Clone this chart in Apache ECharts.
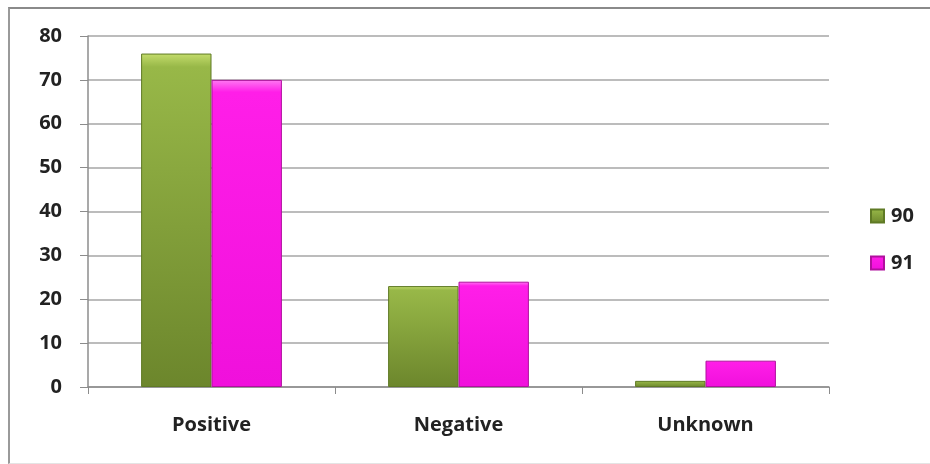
<!DOCTYPE html>
<html>
<head>
<meta charset="utf-8">
<script src="https://cdn.jsdelivr.net/npm/echarts@6/dist/echarts.min.js"></script>
<style>
  html, body { margin: 0; padding: 0; background: #fff; overflow: hidden; }
  #frame {
    position: absolute; left: 8px; top: 7px; width: 930px; height: 454px;
    border-top: 2px solid #8a8a8a; border-left: 2px solid #9a9a9a; border-bottom: 1px solid #e4e4e4;
  }
  #chart { position: absolute; left: 0; top: 0; width: 930px; height: 464px; }
</style>
</head>
<body>
<div id="frame"></div>
<div id="chart"></div>
<script>
// Result categories and the two yearly series
const categories = ['Positive', 'Negative', 'Unknown'];
const series90 = [76, 23, 1.4];
const series91 = [70, 24, 6];
const seriesNames = ['90', '91'];
const yTicks = { min: 0, max: 80, interval: 10 };

const font = '"Open Sans", "DejaVu Sans", sans-serif';

function barGradient(top, mid, bottom) {
  return new echarts.graphic.LinearGradient(0, 0, 0, 1, [
    { offset: 0, color: top },
    { offset: 0.04, color: mid },
    { offset: 1, color: bottom }
  ]);
}

const chart = echarts.init(document.getElementById('chart'), null, { renderer: 'canvas' });
chart.setOption({
  animation: false,
  backgroundColor: 'transparent',
  grid: { left: 88, right: 101, top: 36, bottom: 77 },
  legend: {
    orient: 'vertical',
    left: 865,
    top: 201,
    itemWidth: 13,
    itemHeight: 13,
    itemGap: 27,
    icon: 'rect',
    textStyle: { fontFamily: font, fontSize: 20, fontWeight: 'bold', color: '#222', padding: [0, 0, 0, 2] },
    data: seriesNames
  },
  xAxis: {
    type: 'category',
    data: categories,
    axisLine: { lineStyle: { color: '#8c8c8c', width: 1.5 } },
    axisTick: { show: true, length: 7, lineStyle: { color: '#8c8c8c' } },
    axisLabel: { margin: 28, fontFamily: font, fontSize: 20, fontWeight: 'bold', color: '#222' }
  },
  yAxis: {
    type: 'value',
    min: yTicks.min, max: yTicks.max, interval: yTicks.interval,
    axisLine: { show: true, lineStyle: { color: '#8c8c8c', width: 1.5 } },
    axisTick: { show: true, inside: false, length: 8, lineStyle: { color: '#8c8c8c' } },
    splitLine: { lineStyle: { color: '#a6a6a6', width: 1.5 } },
    axisLabel: { margin: 26, fontFamily: font, fontSize: 20, fontWeight: 'bold', color: '#222' }
  },
  series: [
    {
      name: seriesNames[0],
      type: 'bar',
      data: series90,
      barGap: '0%',
      barCategoryGap: '43%',
      itemStyle: {
        color: barGradient('#c4dc6c', '#98b848', '#6c862c'),
        borderColor: '#5f7a25',
        borderWidth: 1
      }
    },
    {
      name: seriesNames[1],
      type: 'bar',
      data: series91,
      barGap: '0%',
      barCategoryGap: '43%',
      itemStyle: {
        color: barGradient('#ff7af2', '#ff1ee8', '#f010dc'),
        borderColor: '#b0109e',
        borderWidth: 1
      }
    }
  ]
});
</script>
</body>
</html>
